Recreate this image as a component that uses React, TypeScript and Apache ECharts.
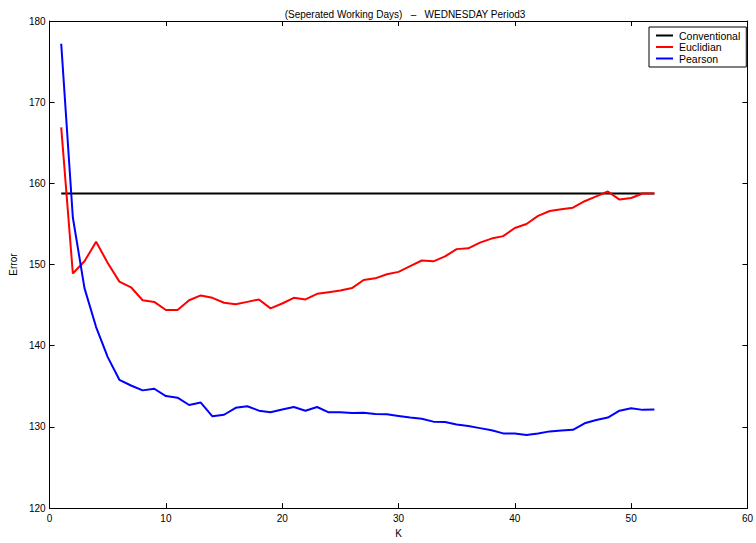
import React, { useEffect, useRef } from "react";
import * as echarts from "echarts";

// Neighbourhood size K
const kValues: number[] = [
  1, 2, 3, 4, 5, 6, 7, 8, 9, 10, 11, 12, 13, 14, 15, 16, 17, 18, 19, 20, 21, 22, 23, 24, 25, 26,
  27, 28, 29, 30, 31, 32, 33, 34, 35, 36, 37, 38, 39, 40, 41, 42, 43, 44, 45, 46, 47, 48, 49, 50,
  51, 52,
];

// Error of the conventional method (constant over K)
const conventionalError = 158.75;

const euclidianError: number[] = [
  166.9, 148.9, 150.4, 152.8, 150.2, 147.9, 147.2, 145.6, 145.4, 144.4, 144.4, 145.6, 146.2,
  145.9, 145.3, 145.1, 145.4, 145.7, 144.6, 145.2, 145.9, 145.7, 146.4, 146.6, 146.8, 147.1,
  148.1, 148.3, 148.8, 149.1, 149.8, 150.5, 150.4, 151.0, 151.9, 152.0, 152.7, 153.2, 153.5,
  154.5, 155.0, 156.0, 156.6, 156.8, 157.0, 157.8, 158.4, 159.0, 158.0, 158.2, 158.75, 158.75,
];

const pearsonError: number[] = [
  177.2, 155.8, 147.1, 142.3, 138.6, 135.8, 135.1, 134.5, 134.7, 133.8, 133.6, 132.7, 133.0,
  131.3, 131.5, 132.35, 132.55, 132.0, 131.8, 132.15, 132.45, 132.0, 132.45, 131.8, 131.8, 131.7,
  131.75, 131.6, 131.55, 131.35, 131.15, 131.0, 130.65, 130.6, 130.3, 130.1, 129.85, 129.6,
  129.2, 129.2, 129.0, 129.2, 129.45, 129.55, 129.65, 130.45, 130.85, 131.15, 132.0, 132.3,
  132.1, 132.15,
];

const seriesNames = ["Conventional", "Euclidian", "Pearson"];
const titleText = "(Seperated Working Days)   \u2013   WEDNESDAY Period3";

const FONT = "'Liberation Sans', Arial, Helvetica, sans-serif";

export default function App() {
  const ref = useRef<HTMLDivElement>(null);

  useEffect(() => {
    if (!ref.current) return;
    const chart = echarts.init(ref.current, null, { renderer: "svg" });

    const pairs = (vals: number[]) => kValues.map((k, i) => [k, vals[i]]);
    const firstK = kValues[0];
    const lastK = kValues[kValues.length - 1];

    const tickStyle = { inside: true, length: 5, lineStyle: { color: "#000", width: 1 } };
    const lineAxis = { show: true, onZero: false, lineStyle: { color: "#000", width: 1 } };
    const label = { color: "#000", fontSize: 10, fontFamily: FONT };

    chart.setOption({
      animation: false,
      backgroundColor: "#fff",
      textStyle: { fontFamily: FONT },
      title: {
        text: titleText,
        left: 400,
        textAlign: "center",
        top: 4,
        textStyle: { fontSize: 10, fontWeight: "normal", color: "#000", fontFamily: FONT },
      },
      grid: { left: 47.5, right: 4, top: 21, bottom: 28, containLabel: false },
      legend: {
        data: seriesNames,
        orient: "vertical",
        left: 649,
        top: 27,
        padding: [3, 6, 3, 7],
        itemGap: 0.5,
        itemWidth: 17,
        itemHeight: 2,
        icon: "rect",
        backgroundColor: "#fff",
        borderColor: "#000",
        borderWidth: 1,
        borderRadius: 0,
        textStyle: { fontSize: 10.5, color: "#000", fontFamily: FONT, lineHeight: 11, padding: [0, 0, 0, 1] },
      },
      xAxis: [
        {
          type: "value",
          min: 0,
          max: 60,
          interval: 10,
          name: "K",
          nameLocation: "middle",
          nameGap: 17,
          nameTextStyle: { fontSize: 10, color: "#000", fontFamily: FONT },
          axisLine: lineAxis,
          axisTick: tickStyle,
          axisLabel: { ...label, margin: 5 },
          splitLine: { show: false },
        },
        {
          type: "value",
          position: "top",
          min: 0,
          max: 60,
          interval: 10,
          axisLine: lineAxis,
          axisTick: tickStyle,
          axisLabel: { show: false },
          splitLine: { show: false },
        },
      ],
      yAxis: [
        {
          type: "value",
          min: 120,
          max: 180,
          interval: 10,
          name: "Error",
          nameLocation: "middle",
          nameGap: 26,
          nameTextStyle: { fontSize: 10, color: "#000", fontFamily: FONT },
          axisLine: lineAxis,
          axisTick: tickStyle,
          axisLabel: { ...label, margin: 4 },
          splitLine: { show: false },
        },
        {
          type: "value",
          position: "right",
          min: 120,
          max: 180,
          interval: 10,
          axisLine: lineAxis,
          axisTick: tickStyle,
          axisLabel: { show: false },
          splitLine: { show: false },
        },
      ],
      series: [
        {
          name: seriesNames[0],
          type: "line",
          data: [
            [firstK, conventionalError],
            [lastK, conventionalError],
          ],
          symbol: "none",
          color: "#000000",
          lineStyle: { color: "#000000", width: 2 },
        },
        {
          name: seriesNames[1],
          type: "line",
          data: pairs(euclidianError),
          symbol: "none",
          color: "#ff0000",
          lineStyle: { color: "#ff0000", width: 2 },
        },
        {
          name: seriesNames[2],
          type: "line",
          data: pairs(pearsonError),
          symbol: "none",
          color: "#0000ff",
          lineStyle: { color: "#0000ff", width: 2 },
        },
      ],
    });

    return () => chart.dispose();
  }, []);

  return (
    <div
      ref={ref}
      style={{ position: "fixed", left: 0, top: 0, width: 756, height: 543, background: "#fff" }}
    />
  );
}
